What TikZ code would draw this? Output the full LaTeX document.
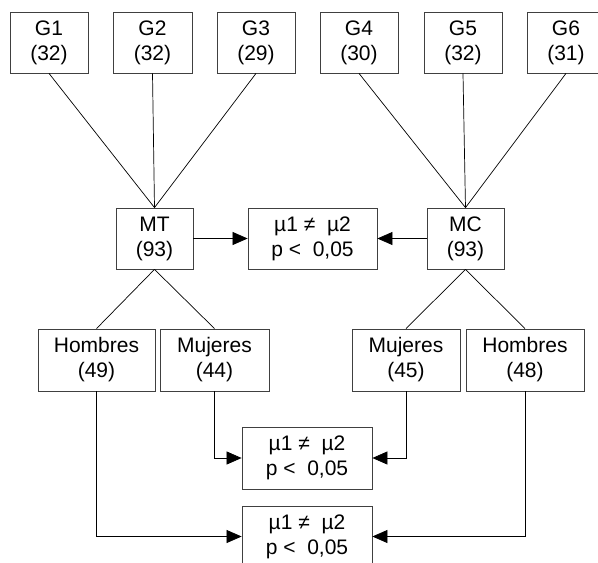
\documentclass[tikz,border=0pt]{standalone}
\usepackage{fontspec}
\setmainfont{Liberation Sans}
\usetikzlibrary{arrows.meta}
\begin{document}
\begin{tikzpicture}[x=1pt,y=-1pt,
  box/.style={draw=black!75, line width=0.8pt, fill=white, align=center, inner sep=0pt,
    minimum height=61pt, font=\fontsize{21}{25}\selectfont},
  conn/.style={draw=black, line width=0.7pt},
  arr/.style={conn, -{Triangle[length=15pt,width=13pt]}}]
\useasboundingbox (0,0) rectangle (598,563);
\clip (0,0) rectangle (598,563);
\fill[white] (0,0) rectangle (598,563);
% top row
\node[box, minimum width=78pt] (g1) at (49,42.5) {G1\\(32)};
\node[box, minimum width=79pt] (g2) at (152.5,42.5) {G2\\(32)};
\node[box, minimum width=78pt] (g3) at (256,42.5) {G3\\(29)};
\node[box, minimum width=78pt] (g4) at (359,42.5) {G4\\(30)};
\node[box, minimum width=78pt] (g5) at (463,42.5) {G5\\(32)};
\node[box, minimum width=78pt] (g6) at (566,42.5) {G6\\(31)};
% middle row
\node[box, minimum width=77pt] (mt) at (154.5,238.5) {MT\\(93)};
\node[box, minimum width=129pt] (r1) at (312.5,238.5) {µ1 ≠\ \ µ2\\p <\ \ 0,05};
\node[box, minimum width=77pt] (mc) at (465.5,238.5) {MC\\(93)};
% gender row
\node[box, minimum width=117pt, minimum height=62pt] (h1) at (96.5,360) {Hombres\\(49)};
\node[box, minimum width=109pt, minimum height=62pt] (m1) at (214.5,360) {Mujeres\\(44)};
\node[box, minimum width=108pt, minimum height=62pt] (m2) at (406,360) {Mujeres\\(45)};
\node[box, minimum width=118pt, minimum height=62pt] (h2) at (525,360) {Hombres\\(48)};
% results
\node[box, minimum width=130pt, minimum height=62pt] (r2) at (307,458) {µ1 ≠\ \ µ2\\p <\ \ 0,05};
\node[box, minimum width=130pt, minimum height=61pt] (r3) at (307,536.5) {µ1 ≠\ \ µ2\\p <\ \ 0,05};
% connectors
\foreach \g in {g1,g2,g3} \draw[conn] (\g.south) -- (mt.north);
\foreach \g in {g4,g5,g6} \draw[conn] (\g.south) -- (mc.north);
\draw[conn] (mt.south) -- (h1.north);
\draw[conn] (mt.south) -- (m1.north);
\draw[conn] (mc.south) -- (m2.north);
\draw[conn] (mc.south) -- (h2.north);
\draw[arr] (mt.east) -- (r1.west);
\draw[arr] (mc.west) -- (r1.east);
\draw[arr] (m1.south) |- (r2.west);
\draw[arr] (m2.south) |- (r2.east);
\draw[arr] (h1.south) |- (r3.west);
\draw[arr] (h2.south) |- (r3.east);
\end{tikzpicture}
\end{document}
